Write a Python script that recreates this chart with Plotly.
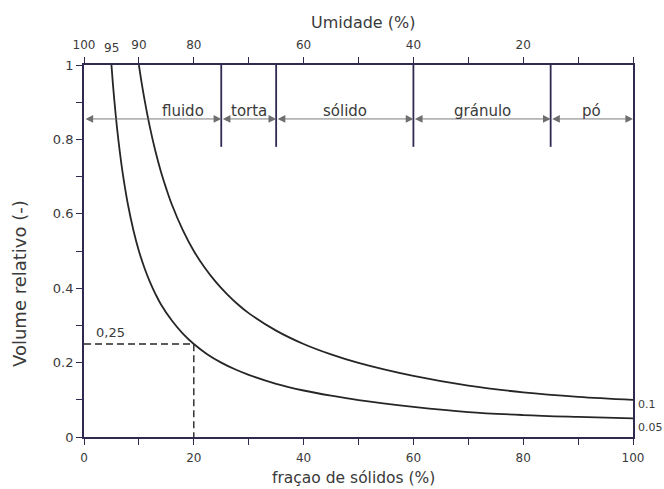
import plotly.graph_objects as go

# Relative volume curves vs. solids fraction (%)
solids_05 = [5, 5.25, 5.5, 6, 6.5, 7, 7.5, 8, 9, 10, 11, 12, 13, 14, 16, 18, 20, 22.5, 25,
             27.5, 30, 35, 40, 45, 50, 60, 70, 80, 90, 100]
volume_05 = [1.0, 0.952, 0.909, 0.833, 0.769, 0.714, 0.667, 0.625, 0.556, 0.5, 0.455, 0.417,
             0.385, 0.357, 0.313, 0.278, 0.25, 0.222, 0.2, 0.182, 0.167, 0.143, 0.125, 0.111,
             0.099, 0.081, 0.067, 0.059, 0.054, 0.05]
solids_10 = [10, 10.5, 11, 12, 13, 14, 15, 16, 18, 20, 22, 24, 26, 28, 30, 35, 40, 45, 50,
             60, 70, 80, 90, 100]
volume_10 = [1.0, 0.952, 0.909, 0.833, 0.769, 0.714, 0.667, 0.625, 0.556, 0.5, 0.455, 0.417,
             0.385, 0.357, 0.333, 0.286, 0.25, 0.222, 0.199, 0.164, 0.138, 0.12, 0.108, 0.1]
curve_labels = ["0.05", "0.1"]

# Consistency regions (solids %)
band_edges = [0, 25, 35, 60, 85, 100]
band_names = ["fluido", "torta", "sólido", "gránulo", "pó"]
band_label_x = [18, 30, 47.5, 72.5, 92.5]

# Bottom / top / left tick definitions
bottom_ticks = [0, 10, 20, 30, 40, 50, 60, 70, 80, 90, 100]
bottom_text = ["0", "", "20", "", "40", "", "60", "", "80", "", "100"]
top_ticks = [0, 10, 20, 30, 40, 50, 60, 70, 80, 90, 100]
top_text = ["100", "90", "80", "", "60", "", "40", "", "20", "", ""]
left_ticks = [0, 0.1, 0.2, 0.3, 0.4, 0.5, 0.6, 0.7, 0.8, 0.9, 1.0]
left_text = ["0", "", "0.2", "", "0.4", "", "0.6", "", "0.8", "", "1"]

# Marked point
mark_x = 20
mark_y = 0.25

AXIS = "#2e2a50"
INK = "#262626"
TXT = "#3a3a3a"
FONT = "DejaVu Sans, Verdana, sans-serif"

fig = go.Figure()

fig.add_trace(go.Scatter(x=solids_05, y=volume_05, mode="lines", line_shape="spline",
                         line=dict(color=INK, width=1.8), showlegend=False, cliponaxis=False,
                         hoverinfo="skip"))
fig.add_trace(go.Scatter(x=solids_10, y=volume_10, mode="lines", line_shape="spline",
                         line=dict(color=INK, width=1.8), showlegend=False, cliponaxis=False,
                         hoverinfo="skip"))

# dashed guide to the marked point
fig.add_trace(go.Scatter(x=[0, mark_x, mark_x], y=[mark_y, mark_y, 0], mode="lines",
                         line=dict(color=INK, width=1.4, dash="7px,4px"),
                         showlegend=False, hoverinfo="skip"))

# dummy trace to render the top (moisture) axis
fig.add_trace(go.Scatter(x=[0, 100], y=[None, None], xaxis="x2", showlegend=False,
                         hoverinfo="skip"))

shapes = []
for b in band_edges[1:-1]:
    shapes.append(dict(type="line", xref="x", yref="y", x0=b, x1=b, y0=0.78, y1=1.0,
                       line=dict(color=AXIS, width=1.8)))

annotations = []
arrow_y = 0.855
for i, name in enumerate(band_names):
    x0, x1 = band_edges[i], band_edges[i + 1]
    annotations.append(dict(x=x1, y=arrow_y, ax=x0, ay=arrow_y, xref="x", yref="y",
                            axref="x", ayref="y", text="", showarrow=True,
                            arrowhead=2, startarrowhead=2, arrowside="end+start",
                            arrowsize=1.7, startarrowsize=1.7, arrowwidth=0.9,
                            arrowcolor="#6e6e6e"))
    annotations.append(dict(x=band_label_x[i], y=0.877, xref="x", yref="y", text=name,
                            showarrow=False, font=dict(family=FONT, size=15, color=TXT)))

# curve end labels
annotations.append(dict(x=100, y=volume_10[-1], xref="x", yref="y", text=curve_labels[1],
                        showarrow=False, xanchor="left", xshift=3, yshift=-5,
                        font=dict(family=FONT, size=11, color=TXT)))
annotations.append(dict(x=100, y=volume_05[-1], xref="x", yref="y", text=curve_labels[0],
                        showarrow=False, xanchor="left", xshift=3, yshift=-9,
                        font=dict(family=FONT, size=11, color=TXT)))

# value of the marked point
annotations.append(dict(x=4.9, y=mark_y, xref="x", yref="y", text="0,25", showarrow=False,
                        yanchor="bottom", yshift=2,
                        font=dict(family=FONT, size=13, color=TXT)))

# extra top label at 95 % moisture
annotations.append(dict(x=5, y=1, xref="x", yref="y", text="95", showarrow=False,
                        yanchor="middle", yshift=17,
                        font=dict(family=FONT, size=12, color=TXT)))

# axis titles
annotations.append(dict(x=0.508, y=1.113, xref="paper", yref="paper", text="Umidade (%)",
                        xanchor="center", yanchor="middle", showarrow=False,
                        font=dict(family=FONT, size=16, color=TXT)))
annotations.append(dict(x=0.49, y=-0.11, xref="paper", yref="paper",
                        text="fraçao de sólidos (%)", xanchor="center", yanchor="middle",
                        showarrow=False, font=dict(family=FONT, size=15.5, color=TXT)))
annotations.append(dict(x=-0.1166, y=0.414, xref="paper", yref="paper",
                        text="Volume relativo (-)", textangle=-90, showarrow=False,
                        xanchor="center", yanchor="middle",
                        font=dict(family=FONT, size=18, color=TXT)))

fig.update_layout(
    width=664, height=489,
    margin=dict(l=84, r=31, t=65, b=52),
    paper_bgcolor="white", plot_bgcolor="white",
    font=dict(family=FONT, size=12, color=TXT),
    shapes=shapes, annotations=annotations,
    xaxis=dict(range=[0, 100], tickvals=bottom_ticks, ticktext=bottom_text,
               showline=True, linecolor=AXIS, linewidth=1.8, ticks="outside",
               ticklen=6, tickwidth=1.4, tickcolor=AXIS, showgrid=False, zeroline=False,
               ticklabelstandoff=3,
               tickfont=dict(family=FONT, size=12, color=TXT)),
    xaxis2=dict(range=[0, 100], overlaying="x", side="top", anchor="y",
                tickvals=top_ticks, ticktext=top_text,
                showline=True, linecolor=AXIS, linewidth=1.8, ticks="outside",
                ticklen=6, tickwidth=1.4, tickcolor=AXIS, showgrid=False, zeroline=False,
                ticklabelstandoff=3,
                tickfont=dict(family=FONT, size=12, color=TXT)),
    yaxis=dict(range=[0, 1], tickvals=left_ticks, ticktext=left_text,
               showline=True, linecolor=AXIS, linewidth=1.8, mirror=True,
               ticks="outside", ticklen=6, tickwidth=1.4, tickcolor=AXIS,
               showgrid=False, zeroline=False,
               tickfont=dict(family=FONT, size=13, color=TXT)),
)

fig.write_html("out.html")
